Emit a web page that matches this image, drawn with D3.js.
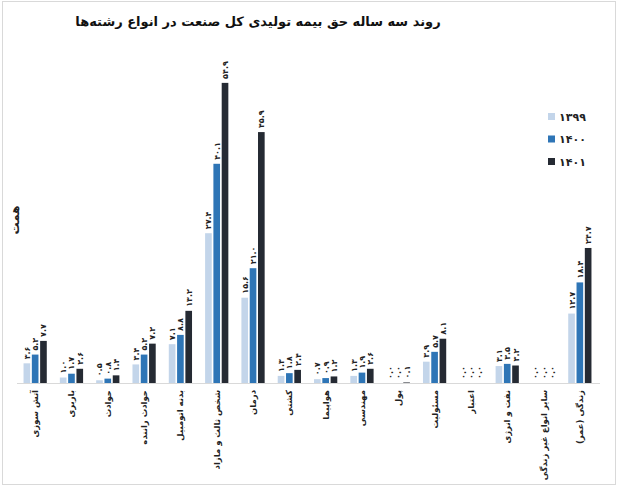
<!DOCTYPE html>
<html>
<head>
<meta charset="utf-8">
<script src="https://cdn.jsdelivr.net/npm/d3@7/dist/d3.min.js"></script>
<style>
  body { margin: 0; background: #fff; }
  text { font-family: "DejaVu Sans", sans-serif; }
</style>
</head>
<body>
<script>
const categories = [
  'آتش سوزی', 'باربری', 'حوادث', 'حوادث راننده', 'بدنه اتومبیل',
  'شخص ثالث و مازاد', 'درمان', 'کشتی', 'هواپیما', 'مهندسی', 'پول',
  'مسئولیت', 'اعتبار', 'نفت و انرژی', 'سایر انواع غیر زندگی', 'زندگی (عمر)'
];
const years = ['۱۳۹۹', '۱۴۰۰', '۱۴۰۱'];
const v1399 = [3.6, 1.0, 0.5, 3.4, 7.1, 27.4, 15.6, 1.3, 0.7, 1.3, 0.0, 3.9, 0.0, 3.1, 0.0, 12.7];
const v1400 = [5.2, 1.7, 0.8, 5.2, 8.8, 40.1, 21.0, 1.8, 0.9, 1.9, 0.0, 5.7, 0.0, 3.5, 0.0, 18.4];
const v1401 = [7.7, 2.6, 1.4, 7.2, 13.2, 54.9, 45.9, 2.4, 1.2, 2.6, 0.1, 8.1, 0.0, 3.2, 0.0, 24.7];
const series = [v1399, v1400, v1401];
const colors = ['#c3d5ea', '#2e75b6', '#252a33'];

const width = 624,
  height = 489;

const faDigits = s => s.replace(/\d/g, d => '۰۱۲۳۴۵۶۷۸۹'[d]);

const svg = d3
  .select('body')
  .append('svg')
  .attr('width', width)
  .attr('height', height);

svg.append('rect')
  .attr('x', 2.5).attr('y', 1.5)
  .attr('width', 613).attr('height', 483)
  .attr('fill', 'none')
  .attr('stroke', '#d9d9d9');

svg.append('text')
  .attr('x', 258).attr('y', 26)
  .attr('text-anchor', 'middle')
  .style('font-size', '13px')
  .style('font-weight', 'bold')
  .attr('fill', '#111')
  .text('روند سه ساله حق بیمه تولیدی کل صنعت در انواع رشته‌ها');

const x = d3.scaleBand().domain(categories).range([17, 598]).paddingInner(0.36).paddingOuter(0.18);
const xs = d3.scaleBand().domain(years).range([0, x.bandwidth()]).paddingInner(0.2);
const y = d3.scaleLinear().domain([0, 60]).range([383, 55]);

const groups = svg.selectAll('.grp')
  .data(categories)
  .enter()
  .append('g')
  .attr('class', 'grp')
  .attr('transform', d => `translate(${x(d)},0)`);

groups.each(function (c, i) {
  const g = d3.select(this);
  years.forEach((yr, k) => {
    const val = series[k][i];
    g.append('rect')
      .attr('x', xs(yr))
      .attr('y', y(val))
      .attr('width', xs.bandwidth())
      .attr('height', y(0) - y(val))
      .attr('fill', colors[k]);
    const lx = xs(yr) + xs.bandwidth() / 2 + 3;
    const ly = y(val) - 4;
    g.append('text')
      .attr('transform', `translate(${lx},${ly}) rotate(-90)`)
      .attr('text-anchor', 'start')
      .style('font-size', '8px')
      .style('font-weight', 'bold')
      .attr('fill', '#222')
      .text(faDigits(val.toFixed(1)));
  });
});

const xAxis = svg.append('g')
  .attr('transform', `translate(0,${y(0)})`)
  .call(d3.axisBottom(x).tickSize(0).tickSizeOuter(0));
xAxis.select('.domain').attr('stroke', '#d9d9d9').attr('d', 'M17,0.5H600');
xAxis.selectAll('.tick text')
  .attr('transform', 'translate(3,7) rotate(-90)')
  .attr('x', 0).attr('y', 0).attr('dy', 0)
  .attr('text-anchor', 'end')
  .style('font-size', '8.5px')
  .style('font-weight', 'bold')
  .attr('fill', '#222');

svg.append('text')
  .attr('transform', 'translate(19,220) rotate(-90)')
  .attr('text-anchor', 'middle')
  .style('font-size', '12px')
  .style('font-weight', 'bold')
  .attr('fill', '#222')
  .text('همت');

const legend = svg.selectAll('.leg')
  .data(years)
  .enter()
  .append('g')
  .attr('class', 'leg')
  .attr('transform', (d, i) => `translate(548,${113 + i * 22.5})`);
legend.append('rect')
  .attr('width', 7).attr('height', 7)
  .attr('fill', (d, i) => colors[i]);
legend.append('text')
  .attr('x', 11).attr('y', 7.5)
  .style('font-size', '11px')
  .style('font-weight', 'bold')
  .attr('fill', '#222')
  .text(d => d);
</script>
</body>
</html>
